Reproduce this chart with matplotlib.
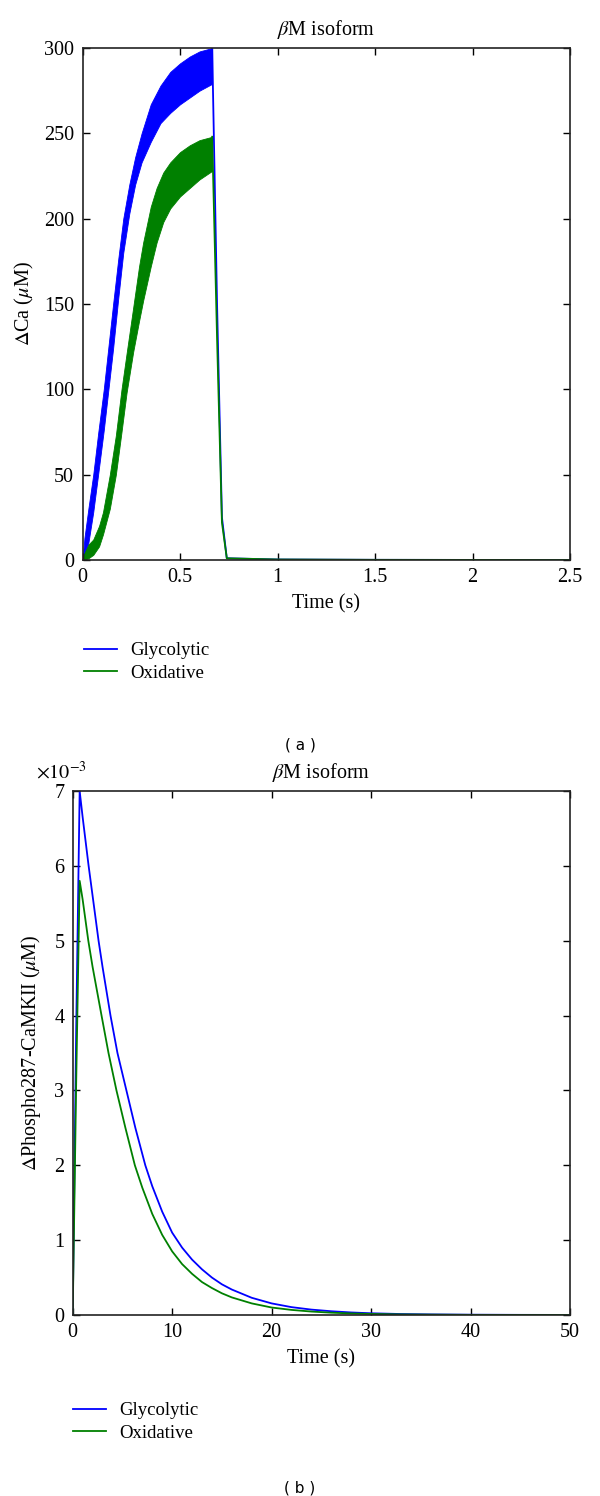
import matplotlib
matplotlib.use("Agg")
import matplotlib.pyplot as plt
from matplotlib.ticker import FixedLocator, FuncFormatter

plt.rcParams['font.family'] = ['Liberation Serif', 'DejaVu Serif']
plt.rcParams['mathtext.fontset'] = 'stix'

# ---------------- data: panel (a) Ca transient (envelope of fast oscillation) ----------------
t_gly = [0, 0.01, 0.03, 0.055, 0.08, 0.109, 0.133, 0.157, 0.183, 0.209, 0.24, 0.27, 0.303,
         0.35, 0.4, 0.45, 0.5, 0.55, 0.6, 0.665]
ca_gly_hi = [0, 13, 30, 50, 74, 100, 125, 150, 176, 200, 220, 236, 250,
             267, 278, 286, 291, 295, 298, 300]
ca_gly_lo = [0, 2, 10, 28, 50, 76, 100, 124, 153, 180, 203, 220, 233,
             245, 256, 262, 267, 271, 275, 279]

t_oxi = [0, 0.01, 0.03, 0.055, 0.085, 0.105, 0.14, 0.171, 0.2, 0.226, 0.26, 0.29, 0.311,
         0.35, 0.38, 0.414, 0.45, 0.5, 0.55, 0.6, 0.665]
ca_oxi_hi = [0, 4, 9, 12, 20, 28, 50, 73, 100, 121, 148, 172, 186,
             207, 218, 227, 233, 239, 243, 246, 248]
ca_oxi_lo = [0, 0.3, 1, 3, 8, 15, 30, 50, 75, 98, 122, 140, 152,
             172, 186, 198, 206, 213, 218, 223, 228]

t_decay = [0.665, 0.69, 0.715, 0.74, 1.0, 1.5, 2.0, 2.5]
ca_gly_decay = [300, 150, 25, 1, 0.3, 0.1, 0.05, 0]
ca_oxi_decay = [248, 130, 22, 1, 0.3, 0.1, 0.05, 0]

# ---------------- data: panel (b) Phospho287-CaMKII (x 1e-3 uM) ----------------
t_phos_g = [0, 0.35, 0.7, 1, 1.6, 2, 2.6, 3, 3.8, 4.5, 5.4, 6.3, 7.3, 8, 9, 10, 11, 12, 13, 14,
            15, 16, 18, 20, 22, 24, 26, 28, 30, 33, 36, 40, 45, 50]
phos_gly = [0, 3.8, 7.0, 6.65, 6.0, 5.6, 5.0, 4.65, 4.0, 3.5, 3.0, 2.5, 2.0, 1.72, 1.38, 1.1, 0.9,
            0.74, 0.61, 0.5, 0.41, 0.34, 0.23, 0.155, 0.105, 0.072, 0.05, 0.034, 0.023, 0.013,
            0.008, 0.004, 0.002, 0.001]
t_phos_o = [0, 0.35, 0.7, 1, 1.57, 2, 2.9, 3.6, 4.4, 5.3, 6.25, 7, 8, 9, 10, 11, 12, 13, 14,
            15, 16, 18, 20, 22, 24, 26, 28, 30, 33, 36, 40, 45, 50]
phos_oxi = [0, 3.1, 5.8, 5.55, 5.0, 4.65, 4.0, 3.5, 3.0, 2.5, 2.0, 1.7, 1.35, 1.07, 0.85, 0.68,
            0.55, 0.44, 0.36, 0.29, 0.235, 0.155, 0.10, 0.068, 0.046, 0.031, 0.021, 0.014,
            0.008, 0.005, 0.002, 0.001, 0.0]

labels = ["Glycolytic", "Oxidative"]
colors = ["#0000ff", "#008000"]

x_ticks_a = [0, 0.5, 1, 1.5, 2, 2.5]
y_ticks_a = [0, 50, 100, 150, 200, 250, 300]
x_ticks_b = [0, 10, 20, 30, 40, 50]
y_ticks_b = [0, 1, 2, 3, 4, 5, 6, 7]

W, H = 600, 1496
fig = plt.figure(figsize=(W / 100, H / 100), dpi=100)

FS = 14.5
LFS = 13.5


def style(ax):
    ax.tick_params(direction='in', top=True, right=True, length=5, width=1,
                   labelsize=FS, pad=6, colors='black')
    for s in ax.spines.values():
        s.set_linewidth(1.2)
        s.set_color('#222222')


def ax_rect(l, t, r, b):
    return [l / W, 1 - b / H, (r - l) / W, (b - t) / H]


# ---------------- panel (a) ----------------
ax1 = fig.add_axes(ax_rect(82.5, 48, 570, 560))
ax1.fill_between(t_gly, ca_gly_lo, ca_gly_hi, color=colors[0], lw=0.6, edgecolor=colors[0])
ax1.fill_between(t_oxi, ca_oxi_lo, ca_oxi_hi, color=colors[1], lw=0.6, edgecolor=colors[1])
l1, = ax1.plot(t_decay, ca_gly_decay, color=colors[0], lw=1.3, label=labels[0])
l2, = ax1.plot(t_decay, ca_oxi_decay, color=colors[1], lw=1.3, label=labels[1])
ax1.set_xlim(0, 2.5)
ax1.set_ylim(0, 300)
ax1.xaxis.set_major_locator(FixedLocator(x_ticks_a))
ax1.yaxis.set_major_locator(FixedLocator(y_ticks_a))
ax1.xaxis.set_major_formatter(FuncFormatter(lambda v, p: f"{v:g}"))
style(ax1)
ax1.set_title(r"$\beta$M isoform", fontsize=FS, pad=9)
ax1.set_xlabel("Time (s)", fontsize=FS, labelpad=5)
ax1.set_ylabel(r"$\Delta$Ca ($\mu$M)", fontsize=FS, labelpad=6)
fig.legend(handles=[l1, l2], loc='upper left', bbox_to_anchor=(84 / W, 1 - 642 / H),
           frameon=False, fontsize=LFS, handlelength=1.75, handletextpad=0.7,
           labelspacing=0.3, borderpad=0, borderaxespad=0)
fig.text(300 / W, 1 - 745 / H, "( a )", ha='center', va='center', fontsize=11,
         family='DejaVu Sans')

# ---------------- panel (b) ----------------
ax2 = fig.add_axes(ax_rect(72.7, 791, 570, 1315))
m2, = ax2.plot(t_phos_g, [v * 1e-3 for v in phos_gly], color=colors[0], lw=1.3, label=labels[0])
m3, = ax2.plot(t_phos_o, [v * 1e-3 for v in phos_oxi], color=colors[1], lw=1.3, label=labels[1])
ax2.set_xlim(0, 50)
ax2.set_ylim(0, 7e-3)
ax2.xaxis.set_major_locator(FixedLocator(x_ticks_b))
ax2.yaxis.set_major_locator(FixedLocator([v * 1e-3 for v in y_ticks_b]))
ax2.yaxis.set_major_formatter(FuncFormatter(lambda v, p: f"{v * 1e3:.0f}"))
style(ax2)
ax2.set_title(r"$\beta$M isoform", fontsize=FS, pad=9)
ax2.set_xlabel("Time (s)", fontsize=FS, labelpad=5)
ax2.set_ylabel(r"$\Delta$Phospho287-CaMKII ($\mu$M)", fontsize=FS, labelpad=8)
fig.text(36 / W, 1 - 773 / H, r"$\times 10^{-3}$", ha='left', va='center', fontsize=FS)
fig.legend(handles=[m2, m3], loc='upper left', bbox_to_anchor=(73 / W, 1 - 1402 / H),
           frameon=False, fontsize=LFS, handlelength=1.75, handletextpad=0.7,
           labelspacing=0.3, borderpad=0, borderaxespad=0)
fig.text(300 / W, 1 - 1488 / H, "( b )", ha='center', va='center', fontsize=11,
         family='DejaVu Sans')

fig.savefig("out.png", dpi=100)
